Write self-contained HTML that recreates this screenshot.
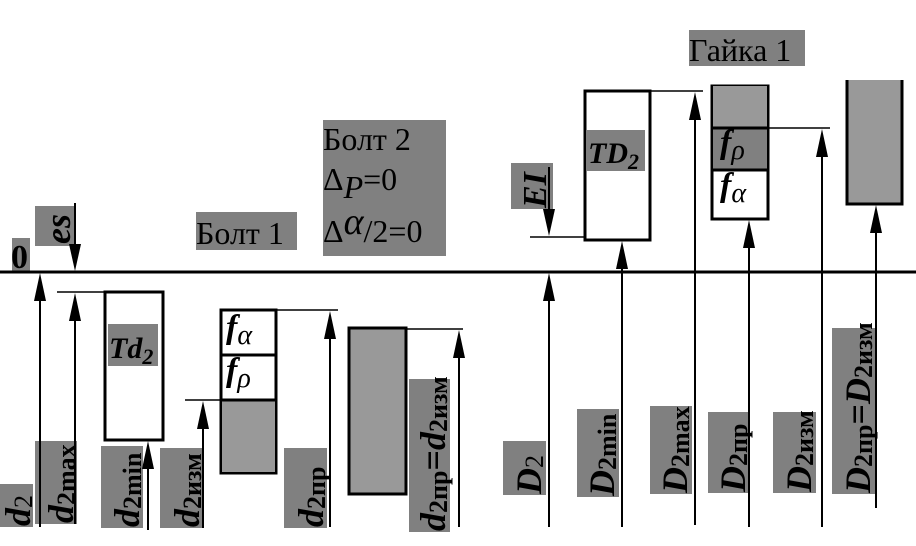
<!DOCTYPE html>
<html><head><meta charset="utf-8"><style>
html,body{margin:0;padding:0;background:#fff;}
svg{display:block;}
.v{font-family:"Liberation Serif",serif;font-weight:bold;}
.i{font-style:italic;}
.s{font-family:"Liberation Serif",serif;}
</style></head><body>
<svg width="916" height="546" viewBox="0 0 916 546" xmlns="http://www.w3.org/2000/svg">
<g fill="#808080">
<rect x="12" y="238" width="18" height="34"/>
<rect x="35" y="206" width="40" height="40"/>
<rect x="196" y="212" width="101" height="38"/>
<rect x="323" y="120" width="123" height="136"/>
<rect x="689" y="30" width="116" height="36"/>
<rect x="511" y="163" width="42" height="46"/>
<rect x="0" y="484" width="33" height="43"/>
<rect x="35" y="441" width="42" height="83"/>
<rect x="101" y="446" width="42" height="82"/>
<rect x="160" y="448" width="43" height="80"/>
<rect x="284" y="448" width="43" height="80"/>
<rect x="409" y="379" width="41" height="153"/>
<rect x="503" y="441" width="43" height="54"/>
<rect x="577" y="409" width="42" height="88"/>
<rect x="650" y="406" width="42" height="88"/>
<rect x="708" y="412" width="42" height="81"/>
<rect x="773" y="412" width="43" height="81"/>
<rect x="832" y="328" width="43" height="166"/>
</g>
<rect x="105" y="292" width="58" height="148" fill="#fff" stroke="#000" stroke-width="3"/>
<rect x="108" y="324" width="50" height="42" fill="#808080"/>
<rect x="221" y="310" width="55" height="163" fill="#fff" stroke="#000" stroke-width="3"/>
<rect x="222" y="400" width="53" height="72" fill="#999"/>
<line x1="221" y1="355" x2="276" y2="355" stroke="#000" stroke-width="3"/>
<line x1="221" y1="400" x2="276" y2="400" stroke="#000" stroke-width="3"/>
<rect x="349" y="328" width="57" height="166" fill="#999" stroke="#000" stroke-width="3"/>
<rect x="585" y="91" width="65" height="149" fill="#fff" stroke="#000" stroke-width="3"/>
<rect x="587" y="130" width="58" height="41" fill="#808080"/>
<rect x="712" y="86" width="56" height="133" fill="#fff" stroke="#000" stroke-width="3"/>
<rect x="713" y="86" width="54" height="42" fill="#999"/>
<rect x="713" y="128" width="54" height="42" fill="#808080"/>
<line x1="712" y1="128" x2="768" y2="128" stroke="#000" stroke-width="3"/>
<line x1="712" y1="170" x2="768" y2="170" stroke="#000" stroke-width="3"/>
<rect x="846" y="80" width="57" height="124" fill="#999"/>
<path d="M847,80 V204 H902 V80" fill="none" stroke="#000" stroke-width="3"/>
<line x1="0" y1="272" x2="916" y2="272" stroke="#000" stroke-width="3"/>
<g stroke="#000" stroke-width="1.5">
<line x1="57" y1="292" x2="105" y2="292"/>
<line x1="276" y1="310" x2="338" y2="310"/>
<line x1="185" y1="400" x2="221" y2="400"/>
<line x1="406" y1="329" x2="463" y2="329"/>
<line x1="530" y1="237" x2="585" y2="237"/>
<line x1="650" y1="91" x2="703" y2="91"/>
<line x1="768" y1="128" x2="830" y2="128"/>
</g>
<g stroke="#000" stroke-width="2">
<line x1="40" y1="527" x2="40" y2="280"/>
<line x1="75" y1="203" x2="75" y2="265"/>
<line x1="75" y1="524" x2="75" y2="300"/>
<line x1="148" y1="530" x2="148" y2="448"/>
<line x1="203" y1="528" x2="203" y2="408"/>
<line x1="330" y1="527" x2="330" y2="318"/>
<line x1="459" y1="527" x2="459" y2="337"/>
<line x1="549" y1="167" x2="549" y2="230"/>
<line x1="549" y1="527" x2="549" y2="280"/>
<line x1="622" y1="527" x2="622" y2="248"/>
<line x1="695" y1="525" x2="695" y2="99"/>
<line x1="749" y1="527" x2="749" y2="227"/>
<line x1="822" y1="527" x2="822" y2="136"/>
<line x1="876" y1="508" x2="876" y2="212"/>
</g>
<g fill="#000">
<polygon points="34,301 40,273 46,301"/>
<polygon points="69,244 75,271 81,244"/>
<polygon points="69,321 75,293 81,321"/>
<polygon points="142,469 148,441 154,469"/>
<polygon points="197,429 203,401 209,429"/>
<polygon points="324,339 330,311 336,339"/>
<polygon points="453,358 459,330 465,358"/>
<polygon points="543,209 549,236 555,209"/>
<polygon points="543,301 549,273 555,301"/>
<polygon points="616,269 622,241 628,269"/>
<polygon points="689,120 695,92 701,120"/>
<polygon points="743,248 749,220 755,248"/>
<polygon points="816,157 822,129 828,157"/>
<polygon points="870,233 876,205 882,233"/>
</g>
<text x="11" y="268" class="v" font-size="34">0</text>
<text transform="translate(70,244) rotate(-90)" class="v i" font-size="36">es</text>
<text x="196" y="244" class="s" font-size="32">Болт 1</text>
<text x="689" y="61" class="s" font-size="32">Гайка 1</text>
<text x="323" y="150" class="s" font-size="32">Болт 2</text>
<text x="323" y="190" class="s" font-size="32">Δ<tspan font-style="italic" dy="8">P</tspan><tspan dy="-8">=0</tspan></text>
<text x="323" y="242" class="s" font-size="32">Δ<tspan font-style="italic" dy="-8" font-size="38">α</tspan><tspan dy="8">/2=0</tspan></text>
<text x="109" y="358" class="v i" font-size="30">Td<tspan font-size="22" dy="6">2</tspan></text>
<text x="588" y="163" class="v i" font-size="30">TD<tspan font-size="22" dy="6">2</tspan></text>
<text transform="translate(546,208) rotate(-90)" class="v i" font-size="34">EI</text>
<text x="226" y="338" class="v i" font-size="34">f<tspan class="s" font-style="italic" font-weight="normal" font-size="28" dy="6">α</tspan></text>
<text x="226" y="381" class="v i" font-size="34">f<tspan class="s" font-style="italic" font-weight="normal" font-size="28" dy="6">ρ</tspan></text>
<text x="720" y="153" class="v i" font-size="34">f<tspan class="s" font-style="italic" font-weight="normal" font-size="28" dy="6">ρ</tspan></text>
<text x="720" y="196" class="v i" font-size="34">f<tspan class="s" font-style="italic" font-weight="normal" font-size="28" dy="6">α</tspan></text>
<g class="v" font-size="36">
<text transform="translate(30,526) rotate(-90)"><tspan class="i">d</tspan><tspan font-size="26" font-weight="normal" dy="2">2</tspan></text>
<text transform="translate(73,523) rotate(-90)"><tspan class="i">d</tspan><tspan font-size="26" dy="2">2max</tspan></text>
<text transform="translate(139,527) rotate(-90)"><tspan class="i">d</tspan><tspan font-size="26" dy="2">2min</tspan></text>
<text transform="translate(199,527) rotate(-90)"><tspan class="i">d</tspan><tspan font-size="26" dy="2">2изм</tspan></text>
<text transform="translate(323,527) rotate(-90)"><tspan class="i">d</tspan><tspan font-size="26" dy="2">2пр</tspan></text>
<text transform="translate(445,531) rotate(-90)"><tspan class="i">d</tspan><tspan font-size="26" dy="2">2пр</tspan><tspan dy="-2">=</tspan><tspan class="i">d</tspan><tspan font-size="26" dy="2">2изм</tspan></text>
<text transform="translate(541,494) rotate(-90)"><tspan class="i">D</tspan><tspan font-size="26" font-weight="normal" dy="2">2</tspan></text>
<text transform="translate(614,496) rotate(-90)"><tspan class="i">D</tspan><tspan font-size="26" dy="2">2min</tspan></text>
<text transform="translate(687,493) rotate(-90)"><tspan class="i">D</tspan><tspan font-size="26" dy="2">2max</tspan></text>
<text transform="translate(745,492) rotate(-90)"><tspan class="i">D</tspan><tspan font-size="26" dy="2">2пр</tspan></text>
<text transform="translate(811,492) rotate(-90)"><tspan class="i">D</tspan><tspan font-size="26" dy="2">2изм</tspan></text>
<text transform="translate(870,493) rotate(-90)"><tspan class="i">D</tspan><tspan font-size="26" dy="2">2пр</tspan><tspan dy="-2">=</tspan><tspan class="i">D</tspan><tspan font-size="26" dy="2">2изм</tspan></text>
</g>
</svg>
</body></html>
